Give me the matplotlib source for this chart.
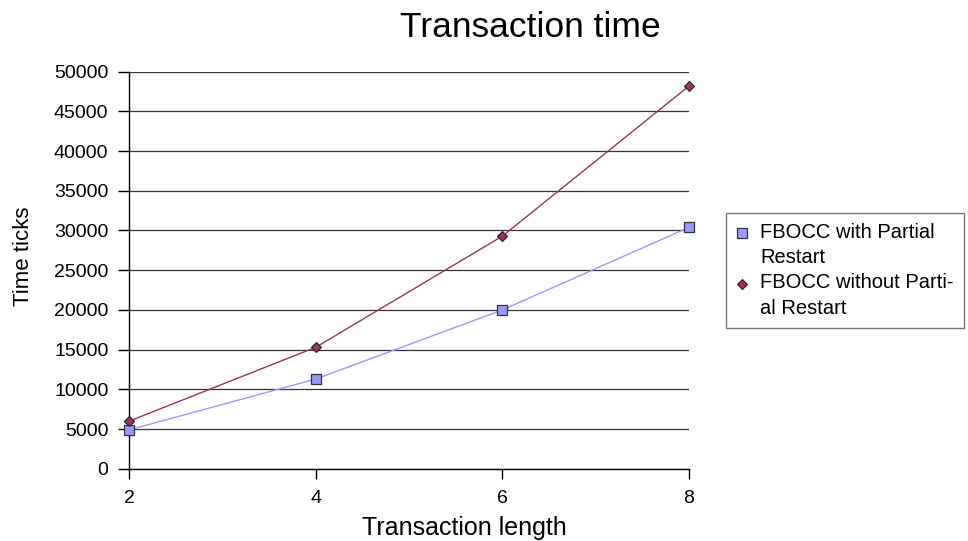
import matplotlib
matplotlib.use('Agg')
import matplotlib.pyplot as plt
from matplotlib.lines import Line2D
from matplotlib.legend_handler import HandlerLine2D

# ======================================
# Data
# ======================================

lengths = [2, 4, 6, 8]
with_partial = [4900, 11300, 20000, 30400]
without_partial = [6000, 15300, 29300, 48200]

series_names = [
    'FBOCC with Partial\nRestart',
    'FBOCC without Parti-\nal Restart'
]

y_ticks = list(range(0, 50001, 5000))

plt.rcParams['font.family'] = ['Liberation Sans', 'DejaVu Sans']


# legend marker sits on the first text line, like Excel does
class FirstLineHandler(HandlerLine2D):
    def create_artists(self, legend, orig_handle, xdescent, ydescent,
                       width, height, fontsize, trans):
        artists = super().create_artists(legend, orig_handle, xdescent, ydescent,
                                         width, height, fontsize, trans)
        for a in artists:
            a.set_linestyle('None')
            a.set_ydata([y + 0.6 * fontsize for y in a.get_ydata()])
        return artists


# ======================================
# Figure
# ======================================

fig = plt.figure(figsize=(9.68, 5.41), dpi=100)
ax = fig.add_axes([0.1336, 0.1336, 0.5782, 0.7339])

ax.plot(
    lengths, with_partial,
    color='#9999FF', linewidth=1,
    marker='s', markersize=6.5,
    markerfacecolor='#9999FF', markeredgecolor='#333333',
    markeredgewidth=0.9, label=series_names[0],
    clip_on=False, zorder=3
)
ax.plot(
    lengths, without_partial,
    color='#993366', linewidth=1,
    marker='D', markersize=5,
    markerfacecolor='#993366', markeredgecolor='#222222',
    markeredgewidth=0.8, label=series_names[1],
    clip_on=False, zorder=3
)

ax.set_xlim(2, 8)
ax.set_ylim(0, 50000)
ax.set_xticks(lengths)
ax.set_yticks(y_ticks)

ax.yaxis.grid(True, color='#333333', linewidth=0.9)
ax.set_axisbelow(True)

for side in ['top', 'right']:
    ax.spines[side].set_visible(False)
for side in ['left', 'bottom']:
    ax.spines[side].set_color('black')
    ax.spines[side].set_linewidth(1)

ax.tick_params(axis='y', direction='out', length=8, width=1, pad=7, labelsize=14)
ax.tick_params(axis='x', direction='out', length=7.5, width=1, pad=8, labelsize=14)

# titles placed like the original (not centred on the plot area)
fig.text(0.548, 0.932, 'Transaction time', fontsize=25.5, ha='center', va='baseline')
fig.text(0.480, 0.011, 'Transaction length', fontsize=18, ha='center', va='baseline')
fig.text(0.0238, 0.5255, 'Time ticks', fontsize=16, rotation=90, ha='center', va='center')

leg = fig.legend(
    loc='upper left',
    bbox_to_anchor=(0.75, 0.607),
    fontsize=14.5,
    frameon=True, fancybox=False,
    edgecolor='#555555',
    handlelength=0.6, handletextpad=0.6,
    borderpad=0.5, labelspacing=0.3,
    borderaxespad=0,
    handler_map={Line2D: FirstLineHandler()}
)
leg.get_frame().set_linewidth(1)
for t in leg.get_texts():
    t.set_linespacing(1.45)

plt.savefig('out.png', dpi=100)
